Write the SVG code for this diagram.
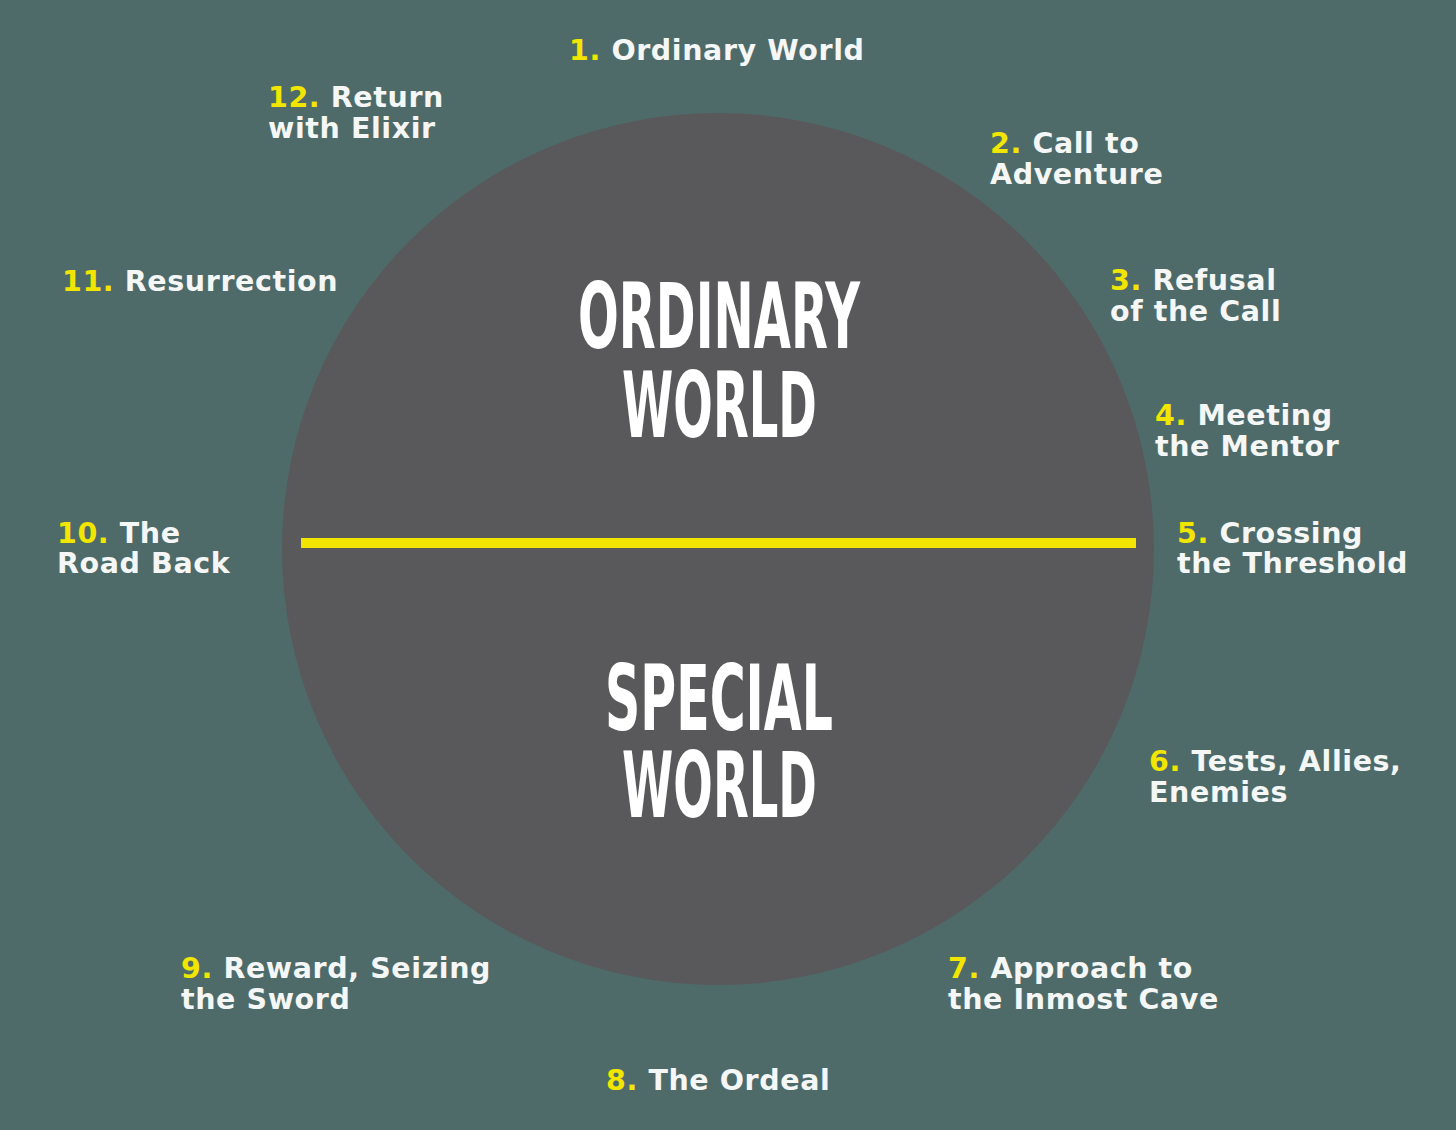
<svg xmlns="http://www.w3.org/2000/svg" width="1456" height="1130" viewBox="0 0 1456 1130">
<style>
.lbl{font-family:"DejaVu Sans","Liberation Sans",sans-serif;font-weight:bold;font-size:28.5px;fill:#f4f7f6;letter-spacing:0.6px}
.num{fill:#f2e600}
.big{font-family:"DejaVu Sans","Liberation Sans",sans-serif;font-weight:bold;font-size:90px;fill:#ffffff;text-anchor:middle}
</style>
<rect width="1456" height="1130" fill="#4e6b6a"/>
<g id="world-circle">
<circle cx="718" cy="549" r="436" fill="#59595b"/>
<text class="big" x="719" y="348" textLength="282" lengthAdjust="spacingAndGlyphs">ORDINARY</text>
<text class="big" x="719.5" y="437" textLength="195" lengthAdjust="spacingAndGlyphs">WORLD</text>
<text class="big" x="719" y="730" textLength="228" lengthAdjust="spacingAndGlyphs">SPECIAL</text>
<text class="big" x="719.5" y="817" textLength="195" lengthAdjust="spacingAndGlyphs">WORLD</text>
</g>
<g id="connectors">
<line x1="301" y1="543" x2="1136" y2="543" stroke="#f2e600" stroke-width="10"/>
</g>
<g id="step1"><text class="lbl" x="569" y="60"><tspan class="num">1.</tspan> Ordinary World</text></g>
<g id="step2"><text class="lbl" x="990" y="153"><tspan class="num">2.</tspan> Call to</text><text class="lbl" x="990" y="184">Adventure</text></g>
<g id="step3"><text class="lbl" x="1110" y="290"><tspan class="num">3.</tspan> Refusal</text><text class="lbl" x="1110" y="321">of the Call</text></g>
<g id="step4"><text class="lbl" x="1155" y="425"><tspan class="num">4.</tspan> Meeting</text><text class="lbl" x="1155" y="456">the Mentor</text></g>
<g id="step5"><text class="lbl" x="1177" y="543"><tspan class="num">5.</tspan> Crossing</text><text class="lbl" x="1177" y="573">the Threshold</text></g>
<g id="step6"><text class="lbl" x="1149" y="771"><tspan class="num">6.</tspan> Tests, Allies,</text><text class="lbl" x="1149" y="802">Enemies</text></g>
<g id="step7"><text class="lbl" x="948" y="978"><tspan class="num">7.</tspan> Approach to</text><text class="lbl" x="948" y="1009">the Inmost Cave</text></g>
<g id="step8"><text class="lbl" x="606" y="1090"><tspan class="num">8.</tspan> The Ordeal</text></g>
<g id="step9"><text class="lbl" x="181" y="978"><tspan class="num">9.</tspan> Reward, Seizing</text><text class="lbl" x="181" y="1009">the Sword</text></g>
<g id="step10"><text class="lbl" x="57" y="543"><tspan class="num">10.</tspan> The</text><text class="lbl" x="57" y="573">Road Back</text></g>
<g id="step11"><text class="lbl" x="62" y="291"><tspan class="num">11.</tspan> Resurrection</text></g>
<g id="step12"><text class="lbl" x="268" y="107"><tspan class="num">12.</tspan> Return</text><text class="lbl" x="268" y="138">with Elixir</text></g>
</svg>
